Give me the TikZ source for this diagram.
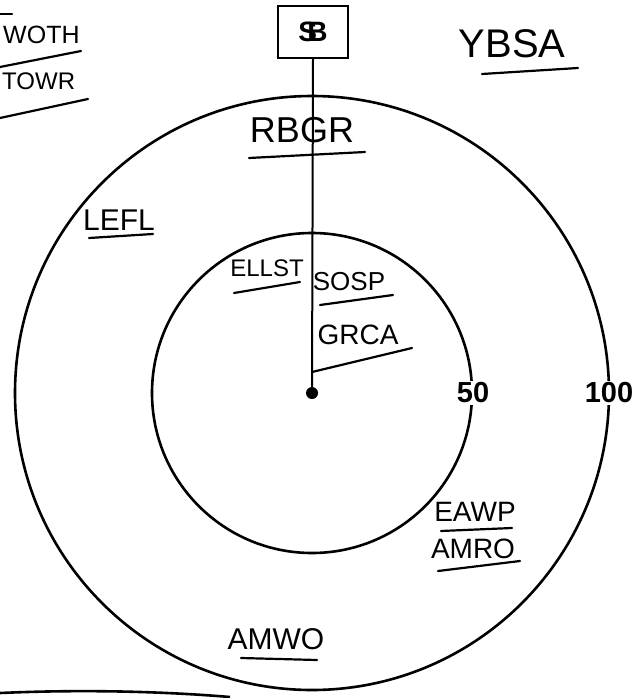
\documentclass[tikz,border=0pt]{standalone}
\usepackage{fontspec}
\setmainfont{Liberation Sans}
\begin{document}
\begin{tikzpicture}[
    x=1pt, y=-1pt,
    ring/.style={draw=black, line width=2.6pt},
    code/.style={font=\fontsize{#1}{#1}\selectfont, inner sep=0pt},
    code/.default=28,
    uline/.style={line width=2.2pt, line cap=round},
    dist/.style={font=\fontsize{29}{29}\selectfont\bfseries, fill=white, inner sep=2pt},
    sbox/.style={draw=black, line width=2pt, minimum width=70pt, minimum height=52pt,
        font=\fontsize{28}{28}\selectfont\bfseries},
]
\useasboundingbox (0,0) rectangle (637,698);
\clip (0,0) rectangle (637,698);

% ── Centre, distance rings and box ──────────────────────────
\node[circle, fill=black, inner sep=0pt, minimum size=12pt] (ctr) at (312, 393) {};
\draw[ring] (ctr.center) circle[radius=160];
\draw[ring] (ctr.center) circle[radius=297];
\node[sbox] (SB) at (313, 32) {S\kern-0.35em B};
\draw[line width=2pt] (SB.south) -- (ctr.center);

% ── Distance labels ─────────────────────────────────────────
\node[dist] (d50)  at (473, 393) {50};
\node[dist] (d100) at (609, 393) {100};

% ── Codes outside the rings ─────────────────────────────────
\node[code=25, anchor=west] (WOTH) at (3, 35) {WOTH};
\node[code=24, anchor=west] (TOWR) at (2, 81) {TOWR};
\node[code=40] (YBSA) at (512, 44) {YBSA};

% ── Codes between the rings ─────────────────────────────────
\node[code=36] (RBGR) at (302, 130) {RBGR};
\node[code=30] (LEFL) at (119, 220) {LEFL};
\node[code=28] (EAWP) at (475, 512) {EAWP};
\node[code=28] (AMRO) at (473, 549) {AMRO};
\node[code=30] (AMWO) at (276, 639) {AMWO};

% ── Codes inside the inner ring ─────────────────────────────
\node[code=24] (ELLST) at (267, 268) {ELLST};
\node[code=26] (SOSP)  at (349, 282) {SOSP};
\node[code=28] (GRCA)  at (358, 335) {GRCA};

% ── Underlines ──────────────────────────────────────────────
\draw[uline] (0, 14) -- (12, 14);
\draw[uline] (0, 67) -- (81, 51);
\draw[uline] (0, 118) -- (88, 99);
\draw[uline] (482, 74) -- (578, 68);
\draw[uline] (249, 158) -- (365, 152);
\draw[uline] (89, 238) -- (153, 234);
\draw[uline] (234, 293) -- (300, 282);
\draw[uline] (320, 305) -- (393, 295);
\draw[uline] (312, 372) -- (412, 348);
\draw[uline] (441, 531) -- (512, 528);
\draw[uline] (438, 571) -- (520, 561);
\draw[uline] (241, 658) -- (317, 660);
\draw[line width=2.6pt] (0, 693) .. controls (90, 689) and (170, 692) .. (230, 697);

\end{tikzpicture}
\end{document}
